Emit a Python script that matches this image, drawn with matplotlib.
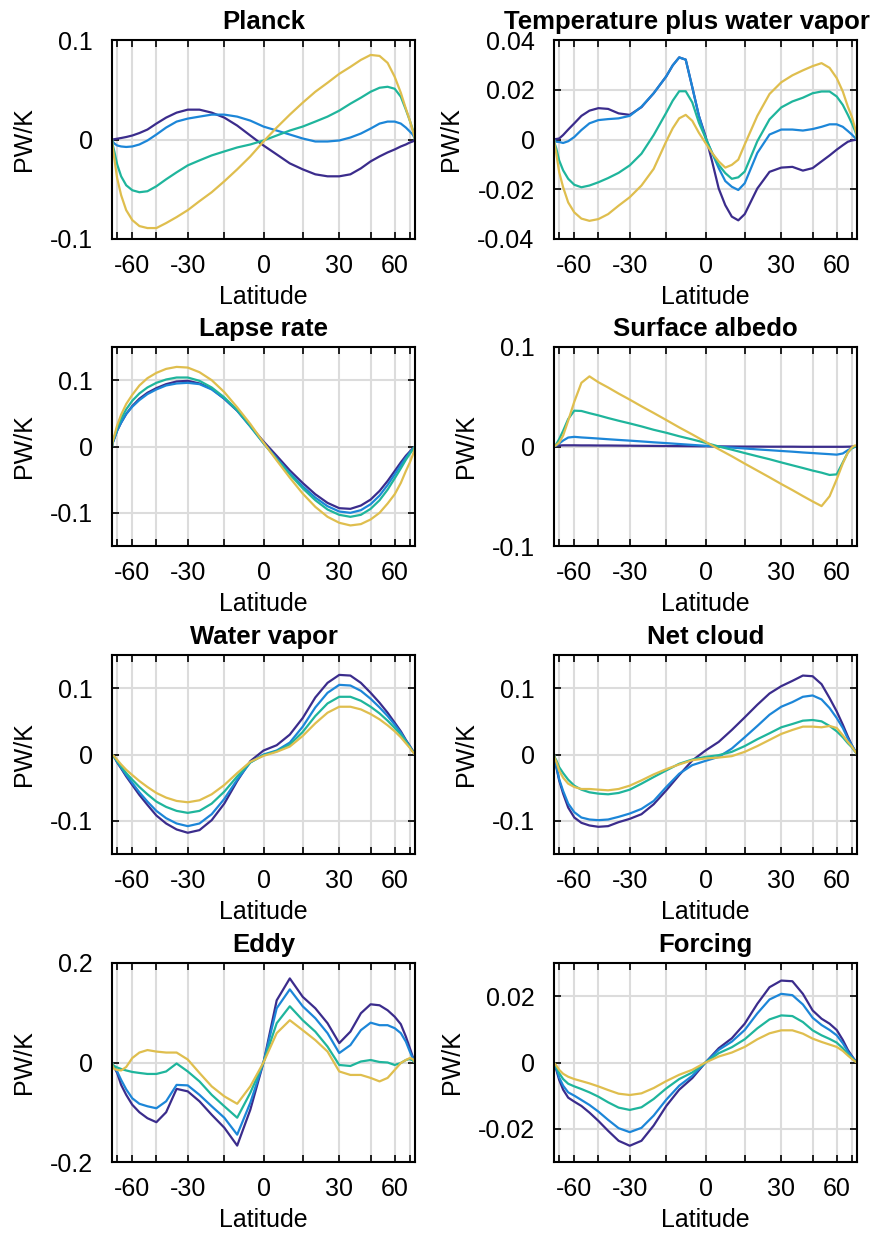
import numpy as np
import matplotlib
matplotlib.use('Agg')
import matplotlib.pyplot as plt
from matplotlib.ticker import FuncFormatter

plt.rcParams['font.family'] = ['Liberation Sans', 'DejaVu Sans']
plt.rcParams['axes.unicode_minus'] = False

# latitude grid, every 5 degrees
lat = np.arange(-90, 91, 5)
# finer near the equator for the temperature + water vapor panel
lat_twv = np.array([-90, -85, -80, -75, -70, -65, -60, -55, -50, -45, -40, -35, -30, -25, -20,
                    -15, -12.5, -10, -7.5, -5, -2.5, 0, 2.5, 5, 7.5, 10, 12.5, 15,
                    20, 25, 30, 35, 40, 45, 50, 55, 60, 65, 70, 75, 80, 85, 90])

# ---- Planck
planck_1 = [0, 0.0, 0.0003, 0.0008, 0.0015, 0.0025, 0.004, 0.0065, 0.010, 0.016, 0.022, 0.027, 0.030,
            0.030, 0.027, 0.022, 0.014, 0.004, -0.006, -0.015, -0.024, -0.030, -0.035, -0.037, -0.037,
            -0.035, -0.029, -0.022, -0.017, -0.013, -0.010, -0.007, -0.005, -0.003, -0.002, -0.0008, 0]
planck_2 = [0, -0.002, -0.004, -0.006, -0.007, -0.0075, -0.007, -0.005, -0.001, 0.005, 0.012, 0.018, 0.021,
            0.023, 0.025, 0.025, 0.023, 0.019, 0.013, 0.009, 0.005, 0.001, -0.002, -0.002, -0.001,
            0.002, 0.006, 0.011, 0.016, 0.018, 0.018, 0.016, 0.012, 0.008, 0.005, 0.002, 0]
planck_3 = [0, -0.005, -0.012, -0.025, -0.037, -0.046, -0.051, -0.053, -0.052, -0.047, -0.040, -0.033, -0.026,
            -0.021, -0.016, -0.012, -0.008, -0.005, -0.001, 0.004, 0.009, 0.013, 0.018, 0.023, 0.029,
            0.036, 0.042, 0.048, 0.052, 0.053, 0.051, 0.043, 0.030, 0.019, 0.010, 0.004, 0]
planck_4 = [0, -0.007, -0.019, -0.039, -0.056, -0.071, -0.081, -0.087, -0.089, -0.089, -0.084, -0.078, -0.071,
            -0.062, -0.053, -0.042, -0.030, -0.017, -0.002, 0.012, 0.025, 0.037, 0.048, 0.057, 0.066,
            0.073, 0.080, 0.085, 0.084, 0.077, 0.063, 0.047, 0.031, 0.019, 0.009, 0.003, 0]

# ---- Temperature plus water vapor (on lat_twv)
twv_1 = [0, 0.0001, 0.0002, 0.0004, 0.0018, 0.004, 0.0065, 0.0095, 0.0116, 0.0126, 0.0123, 0.0105, 0.0099,
         0.013, 0.0186,
         0.0254, 0.0298, 0.033, 0.0321, 0.021, 0.0095, 0.0014, -0.0088, -0.0197, -0.0264, -0.031, -0.0325, -0.030,
         -0.0197, -0.013, -0.0113, -0.011, -0.0125, -0.0115, -0.0088, -0.0064, -0.0041, -0.0023, -0.0009,
         -0.0004, -0.0002, -0.0001, 0]
twv_2 = [0, -0.0005, -0.0009, -0.001, -0.0014, -0.0007, 0.001, 0.0038, 0.0065, 0.0078, 0.0082, 0.0085, 0.0095,
         0.0132, 0.0186,
         0.0254, 0.0298, 0.033, 0.0321, 0.021, 0.0095, 0.0007, -0.0054, -0.0115, -0.0167, -0.019, -0.0203, -0.0176,
         -0.0054, 0.002, 0.004, 0.004, 0.0036, 0.0042, 0.0051, 0.0061, 0.0061, 0.0051, 0.0034,
         0.002, 0.0008, 0.0002, 0]
twv_3 = [0, -0.0015, -0.0036, -0.0084, -0.0124, -0.0158, -0.0182, -0.0192, -0.0185, -0.0172, -0.0155, -0.0134, -0.0104,
         -0.0057, 0.0018,
         0.0108, 0.0156, 0.0194, 0.0194, 0.0149, 0.0068, 0.0007, -0.0054, -0.0102, -0.0135, -0.0158, -0.0152, -0.0129,
         -0.0007, 0.0081, 0.0129, 0.0153, 0.0168, 0.0186, 0.0193, 0.0193, 0.0173, 0.0139, 0.0099,
         0.0065, 0.0038, 0.0018, 0]
twv_4 = [0, -0.002, -0.0057, -0.0131, -0.0192, -0.0253, -0.0293, -0.0318, -0.0327, -0.032, -0.030, -0.0266, -0.0232,
         -0.0185, -0.0118,
         -0.0007, 0.0045, 0.0085, 0.0099, 0.0075, 0.0027, -0.0014, -0.0054, -0.0088, -0.0113, -0.0102, -0.0081, -0.002,
         0.0095, 0.0183, 0.023, 0.0258, 0.0278, 0.0295, 0.0307, 0.0288, 0.0247, 0.0193, 0.0132,
         0.0092, 0.0051, 0.0024, 0]

# ---- Lapse rate
lapse_1 = [0, 0.005, 0.012, 0.024, 0.036, 0.049, 0.061, 0.072, 0.081, 0.088, 0.094, 0.098, 0.099,
           0.095, 0.087, 0.072, 0.054, 0.031, 0.0076, -0.014, -0.036, -0.055, -0.072, -0.085, -0.093,
           -0.094, -0.089, -0.080, -0.067, -0.052, -0.037, -0.024, -0.014, -0.0076, -0.003, -0.001, 0]
lapse_2 = [0, 0.005, 0.012, 0.024, 0.036, 0.049, 0.060, 0.070, 0.079, 0.086, 0.092, 0.095, 0.096,
           0.094, 0.086, 0.072, 0.054, 0.030, 0.005, -0.018, -0.040, -0.060, -0.077, -0.090, -0.098,
           -0.100, -0.096, -0.087, -0.074, -0.058, -0.042, -0.028, -0.017, -0.009, -0.004, -0.001, 0]
lapse_3 = [0, 0.006, 0.014, 0.028, 0.042, 0.056, 0.069, 0.080, 0.089, 0.096, 0.101, 0.104, 0.104,
           0.099, 0.089, 0.074, 0.055, 0.031, 0.005, -0.019, -0.042, -0.063, -0.081, -0.095, -0.103,
           -0.106, -0.103, -0.094, -0.081, -0.065, -0.048, -0.033, -0.020, -0.011, -0.005, -0.0015, 0]
lapse_4 = [0, 0.007, 0.016, 0.032, 0.048, 0.064, 0.078, 0.092, 0.103, 0.111, 0.117, 0.120, 0.119,
           0.112, 0.100, 0.082, 0.059, 0.034, 0.006, -0.021, -0.047, -0.071, -0.091, -0.106, -0.115,
           -0.119, -0.117, -0.110, -0.100, -0.086, -0.072, -0.055, -0.037, -0.024, -0.013, -0.005, 0]

# ---- Surface albedo
albedo_1 = [0, 0.0003, 0.0008, 0.001, 0.0012, 0.0012, 0.0012, 0.0011, 0.0011, 0.001, 0.001, 0.0009, 0.0008,
            0.0007, 0.0006, 0.0005, 0.0004, 0.0003, 0.0002, 0.0001, 0.0, -0.0001, -0.0001, -0.0002, -0.0002,
            -0.0002, -0.0003, -0.0003, -0.0003, -0.0003, -0.0003, -0.0003, -0.0002, -0.0001, 0.0, 0.0, 0]
albedo_2 = [0, 0.0005, 0.001, 0.003, 0.006, 0.009, 0.0097, 0.0091, 0.0086, 0.008, 0.0073, 0.0066, 0.0059,
            0.0051, 0.0042, 0.0034, 0.0025, 0.0016, 0.0007, -0.0002, -0.0011, -0.002, -0.0029, -0.0037, -0.0045,
            -0.0052, -0.006, -0.0066, -0.0072, -0.0077, -0.0082, -0.007, -0.0037, -0.0017, -0.0005, -0.0001, 0]
albedo_3 = [0, 0.0005, 0.0024, 0.0074, 0.0158, 0.0276, 0.036, 0.0357, 0.0335, 0.0313, 0.0286, 0.0259, 0.0232,
            0.0202, 0.0168, 0.0138, 0.0103, 0.0071, 0.0037, 0.0, -0.0032, -0.0066, -0.0098, -0.0128, -0.016,
            -0.0189, -0.0216, -0.0242, -0.0263, -0.0286, -0.028, -0.016, -0.006, -0.0017, 0.0, 0.0, 0]
albedo_4 = [0, 0.0005, 0.0015, 0.004, 0.011, 0.026, 0.045, 0.064, 0.0705, 0.0646, 0.0593, 0.0532, 0.0471,
            0.0404, 0.0337, 0.0266, 0.0192, 0.0121, 0.0047, -0.0027, -0.0098, -0.0172, -0.0242, -0.031, -0.0377,
            -0.0438, -0.0498, -0.0552, -0.0599, -0.050, -0.033, -0.017, -0.006, -0.001, 0.001, 0.001, 0]

# ---- Water vapor
wv_1 = [0, -0.001, -0.004, -0.012, -0.021, -0.033, -0.046, -0.061, -0.076, -0.092, -0.104, -0.113, -0.118,
        -0.114, -0.099, -0.074, -0.040, -0.010, 0.006, 0.014, 0.030, 0.055, 0.086, 0.108, 0.120,
        0.119, 0.108, 0.093, 0.078, 0.063, 0.048, 0.035, 0.022, 0.013, 0.006, 0.002, 0]
wv_2 = [0, -0.001, -0.004, -0.011, -0.020, -0.031, -0.043, -0.057, -0.071, -0.085, -0.096, -0.104, -0.108,
        -0.104, -0.090, -0.067, -0.038, -0.012, 0.0, 0.006, 0.018, 0.042, 0.071, 0.093, 0.105,
        0.104, 0.096, 0.084, 0.071, 0.058, 0.045, 0.033, 0.021, 0.012, 0.005, 0.0015, 0]
wv_3 = [0, -0.001, -0.004, -0.010, -0.018, -0.028, -0.038, -0.049, -0.060, -0.071, -0.079, -0.085, -0.088,
        -0.085, -0.074, -0.056, -0.033, -0.012, -0.001, 0.005, 0.015, 0.034, 0.058, 0.077, 0.087,
        0.087, 0.081, 0.072, 0.062, 0.051, 0.040, 0.030, 0.020, 0.011, 0.005, 0.0015, 0]
wv_4 = [0, -0.001, -0.003, -0.008, -0.015, -0.023, -0.031, -0.040, -0.049, -0.058, -0.065, -0.070, -0.072,
        -0.069, -0.060, -0.046, -0.028, -0.011, -0.002, 0.004, 0.012, 0.028, 0.047, 0.063, 0.072,
        0.072, 0.068, 0.061, 0.053, 0.044, 0.035, 0.026, 0.017, 0.010, 0.004, 0.001, 0]

# ---- Net cloud
cloud_1 = [0, -0.008, -0.019, -0.039, -0.059, -0.080, -0.095, -0.103, -0.107, -0.109, -0.108, -0.102, -0.097,
           -0.090, -0.075, -0.054, -0.031, -0.009, 0.006, 0.019, 0.037, 0.056, 0.075, 0.092, 0.103,
           0.111, 0.119, 0.118, 0.106, 0.085, 0.065, 0.045, 0.027, 0.014, 0.0066, 0.0025, 0]
cloud_2 = [0, -0.008, -0.018, -0.037, -0.055, -0.074, -0.087, -0.095, -0.098, -0.099, -0.098, -0.094, -0.089,
           -0.082, -0.070, -0.049, -0.029, -0.016, -0.0096, -0.0036, 0.009, 0.026, 0.043, 0.060, 0.072,
           0.079, 0.087, 0.089, 0.083, 0.070, 0.055, 0.040, 0.024, 0.014, 0.0066, 0.0025, 0]
cloud_3 = [0, -0.004, -0.0086, -0.019, -0.028, -0.038, -0.047, -0.053, -0.057, -0.059, -0.060, -0.058, -0.053,
           -0.044, -0.034, -0.024, -0.014, -0.0076, -0.0036, -0.001, 0.004, 0.0127, 0.023, 0.032, 0.041,
           0.046, 0.051, 0.052, 0.050, 0.043, 0.035, 0.026, 0.017, 0.011, 0.005, 0.002, 0]
cloud_4 = [0, -0.005, -0.011, -0.024, -0.035, -0.044, -0.049, -0.052, -0.052, -0.053, -0.054, -0.052, -0.047,
           -0.039, -0.030, -0.022, -0.015, -0.0086, -0.006, -0.0046, -0.0025, 0.004, 0.0127, 0.022, 0.031,
           0.037, 0.042, 0.042, 0.041, 0.043, 0.040, 0.029, 0.019, 0.012, 0.0056, 0.002, 0]

# ---- Eddy
eddy_1 = [0, -0.005, -0.010, -0.021, -0.045, -0.065, -0.085, -0.100, -0.112, -0.120, -0.100, -0.053, -0.058,
          -0.078, -0.105, -0.131, -0.167, -0.095, 0.0, 0.125, 0.169, 0.132, 0.109, 0.079, 0.039,
          0.062, 0.099, 0.117, 0.115, 0.105, 0.092, 0.077, 0.052, 0.029, 0.012, 0.004, 0]
eddy_2 = [0, -0.004, -0.009, -0.018, -0.035, -0.054, -0.072, -0.083, -0.088, -0.092, -0.078, -0.045, -0.046,
          -0.065, -0.088, -0.111, -0.145, -0.081, 0.0, 0.109, 0.147, 0.113, 0.089, 0.059, 0.019,
          0.035, 0.065, 0.080, 0.075, 0.075, 0.069, 0.059, 0.042, 0.022, 0.009, 0.003, 0]
eddy_3 = [0, -0.004, -0.007, -0.010, -0.013, -0.016, -0.019, -0.021, -0.023, -0.023, -0.018, -0.002, -0.018,
          -0.038, -0.065, -0.088, -0.111, -0.061, 0.0, 0.079, 0.113, 0.085, 0.062, 0.032, -0.005,
          -0.007, 0.002, 0.005, 0.001, 0.0, -0.005, -0.001, 0.005, 0.007, 0.004, 0.001, 0]
eddy_4 = [0, -0.008, -0.013, -0.015, -0.016, -0.009, 0.009, 0.020, 0.025, 0.022, 0.020, 0.020, 0.006,
          -0.021, -0.048, -0.068, -0.083, -0.048, 0.0, 0.059, 0.085, 0.065, 0.045, 0.022, -0.018,
          -0.025, -0.025, -0.031, -0.038, -0.031, -0.015, -0.001, 0.005, 0.009, 0.007, 0.002, 0]

# ---- Forcing
forcing_1 = [0, -0.0008, -0.0022, -0.0052, -0.0082, -0.0106, -0.0118, -0.0131, -0.0151, -0.0176, -0.0206, -0.0236, -0.0251,
             -0.0236, -0.019, -0.0131, -0.0082, -0.0047, 0.0, 0.0043, 0.0073, 0.0117, 0.0177, 0.0227, 0.0247,
             0.0245, 0.0207, 0.0157, 0.0132, 0.0117, 0.0098, 0.0068, 0.0038, 0.002, 0.0008, 0.0002, 0]
forcing_2 = [0, -0.0007, -0.0018, -0.0045, -0.007, -0.009, -0.010, -0.0113, -0.0128, -0.0148, -0.0173, -0.0198, -0.021,
             -0.0197, -0.016, -0.0112, -0.007, -0.004, 0.0, 0.0038, 0.0063, 0.0098, 0.0148, 0.019, 0.0207,
             0.0203, 0.0175, 0.0135, 0.0113, 0.0098, 0.0082, 0.0058, 0.0033, 0.0017, 0.0007, 0.0002, 0]
forcing_3 = [0, -0.0005, -0.0013, -0.0032, -0.005, -0.0064, -0.0072, -0.008, -0.009, -0.0103, -0.012, -0.0136, -0.0143,
             -0.0135, -0.011, -0.0078, -0.005, -0.003, 0.0, 0.0028, 0.0046, 0.007, 0.0103, 0.013, 0.0142,
             0.014, 0.0122, 0.0097, 0.0082, 0.0071, 0.006, 0.0043, 0.0025, 0.0013, 0.0005, 0.0001, 0]
forcing_4 = [0, -0.0003, -0.0009, -0.0022, -0.0034, -0.0043, -0.005, -0.0056, -0.0063, -0.0072, -0.0083, -0.0094, -0.0098,
             -0.0093, -0.0077, -0.0056, -0.0037, -0.0022, 0.0, 0.0018, 0.003, 0.0047, 0.007, 0.0088, 0.0097,
             0.0097, 0.0087, 0.0072, 0.0062, 0.0054, 0.0047, 0.0035, 0.0021, 0.0011, 0.0004, 0.0001, 0]

colors = ['#3b2c8c', '#1c86d8', '#1fb59c', '#dfbe4e']

panels = [
    ('Planck', lat, [planck_1, planck_2, planck_3, planck_4], (-0.1, 0.1), [-0.1, 0, 0.1]),
    ('Temperature plus water vapor', lat_twv, [twv_1, twv_2, twv_3, twv_4], (-0.04, 0.04),
     [-0.04, -0.02, 0, 0.02, 0.04]),
    ('Lapse rate', lat, [lapse_1, lapse_2, lapse_3, lapse_4], (-0.15, 0.15), [-0.1, 0, 0.1]),
    ('Surface albedo', lat, [albedo_1, albedo_2, albedo_3, albedo_4], (-0.1, 0.1), [-0.1, 0, 0.1]),
    ('Water vapor', lat, [wv_1, wv_2, wv_3, wv_4], (-0.15, 0.15), [-0.1, 0, 0.1]),
    ('Net cloud', lat, [cloud_1, cloud_2, cloud_3, cloud_4], (-0.15, 0.15), [-0.1, 0, 0.1]),
    ('Eddy', lat, [eddy_1, eddy_2, eddy_3, eddy_4], (-0.2, 0.2), [-0.2, 0, 0.2]),
    ('Forcing', lat, [forcing_1, forcing_2, forcing_3, forcing_4], (-0.03, 0.03), [-0.02, 0, 0.02]),
]


def fwd(x):
    return np.sin(np.deg2rad(x))


def inv(x):
    return np.rad2deg(np.arcsin(np.clip(x, -1, 1)))


def fmt(v, pos):
    if abs(v) < 1e-12:
        return '0'
    return '%g' % v


W, H = 872, 1234
lefts = [112, 554]
tops = [40, 347, 655, 963]
aw, ah = 303, 199

fig = plt.figure(figsize=(W / 100, H / 100), dpi=100)

for i, (title, x, series, ylim, yticks) in enumerate(panels):
    r, c = divmod(i, 2)
    ax = fig.add_axes([lefts[c] / W, 1 - (tops[r] + ah) / H, aw / W, ah / H])
    ax.set_xscale('function', functions=(fwd, inv))
    for s, col in zip(series, colors):
        ax.plot(x, s, color=col, lw=1.6)
    ax.set_xlim(-90, 90)
    ax.set_ylim(ylim)
    ax.set_xticks([-60, -30, 0, 30, 60])
    ax.set_xticks([-75, -45, -15, 15, 45, 75], minor=True)
    ax.set_yticks(yticks)
    ax.xaxis.set_major_formatter(FuncFormatter(fmt))
    ax.yaxis.set_major_formatter(FuncFormatter(fmt))
    ax.grid(True, which='both', axis='x', color='#dcdcdc', lw=1.5)
    ax.grid(True, which='major', axis='y', color='#dcdcdc', lw=1.5)
    ax.set_axisbelow(True)
    for sp in ax.spines.values():
        sp.set_linewidth(1.5)
    ax.tick_params(which='both', direction='in', top=True, right=True,
                   length=5, width=1.2, labelsize=18)
    ax.tick_params(axis='x', pad=11)
    ax.tick_params(axis='y', pad=14)
    ax.set_xlabel('Latitude', fontsize=18, labelpad=5)
    ax.set_ylabel('PW/K', fontsize=18, labelpad=10)
    if i == 1:
        ax.set_title(title, fontsize=18.5, fontweight='bold', pad=8, x=0.44)
    else:
        ax.set_title(title, fontsize=18.5, fontweight='bold', pad=8)

fig.savefig('out.png', dpi=100)
